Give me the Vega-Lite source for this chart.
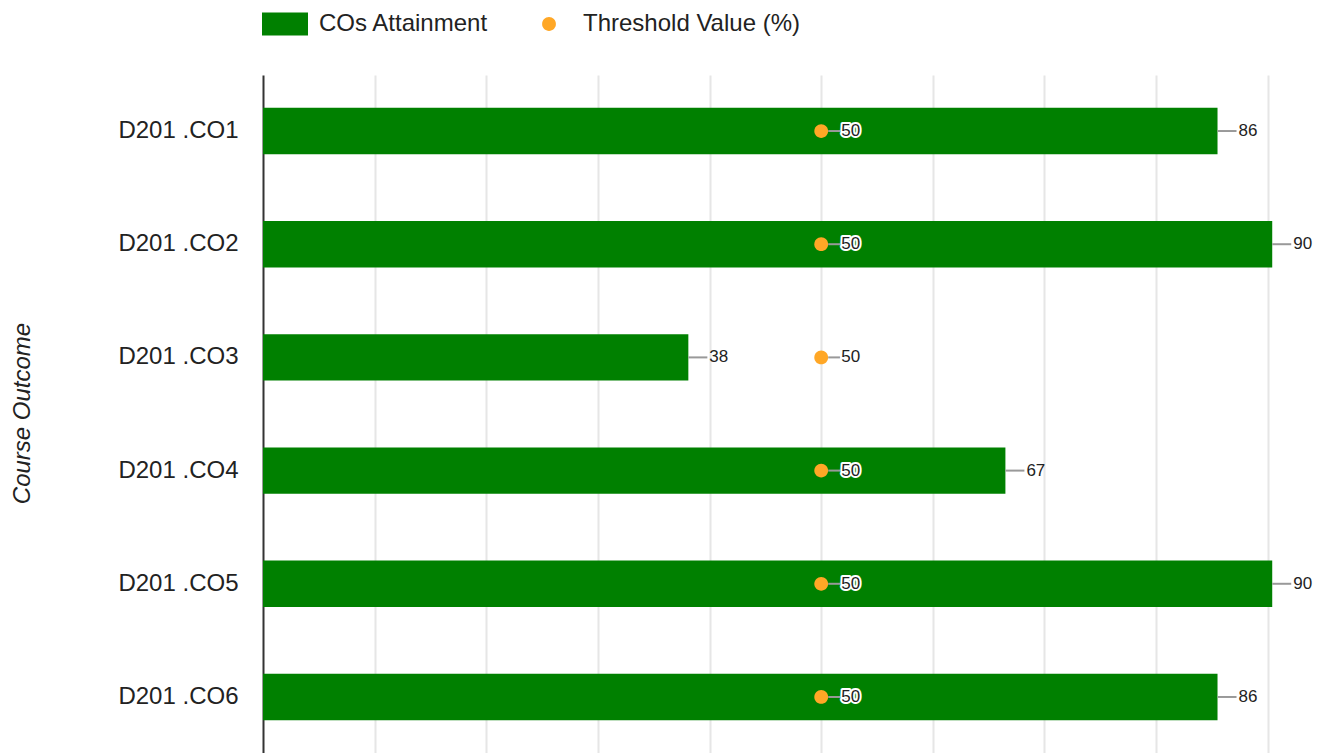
{
  "$schema": "https://vega.github.io/schema/vega-lite/v6.json",
  "width": 1055,
  "height": 678,
  "autosize": {"type": "none"},
  "padding": {"left": 263, "top": 75, "right": 14, "bottom": 0},
  "background": "white",
  "config": {
    "font": "Liberation Sans",
    "view": {"stroke": null},
    "legend": {
      "orient": "none",
      "legendX": -1,
      "legendY": -74,
      "direction": "horizontal",
      "labelFontSize": 24,
      "labelColor": "#222222",
      "labelOffset": 11,
      "columnPadding": 37,
      "symbolSize": 2116,
      "symbolStrokeWidth": 0,
      "labelLimit": 600
    }
  },
  "data": {
    "values": [
      {"co": "D201 .CO1", "series": "COs Attainment", "value": 85.5},
      {"co": "D201 .CO2", "series": "COs Attainment", "value": 90.4},
      {"co": "D201 .CO3", "series": "COs Attainment", "value": 38.1},
      {"co": "D201 .CO4", "series": "COs Attainment", "value": 66.5},
      {"co": "D201 .CO5", "series": "COs Attainment", "value": 90.4},
      {"co": "D201 .CO6", "series": "COs Attainment", "value": 85.5},
      {"co": "D201 .CO1", "series": "Threshold Value (%)", "value": 50},
      {"co": "D201 .CO2", "series": "Threshold Value (%)", "value": 50},
      {"co": "D201 .CO3", "series": "Threshold Value (%)", "value": 50},
      {"co": "D201 .CO4", "series": "Threshold Value (%)", "value": 50},
      {"co": "D201 .CO5", "series": "Threshold Value (%)", "value": 50},
      {"co": "D201 .CO6", "series": "Threshold Value (%)", "value": 50}
    ]
  },
  "encoding": {
    "y": {
      "field": "co",
      "type": "nominal",
      "sort": null,
      "scale": {"paddingInner": 0.59, "paddingOuter": 0.29},
      "axis": {
        "title": "Course Outcome",
        "titleFontSize": 24,
        "titleFontStyle": "italic",
        "titleFontWeight": "normal",
        "titleColor": "#222222",
        "titleX": -234,
        "titleY": 338,
        "titleAngle": -90,
        "titleAlign": "center",
        "titleBaseline": "alphabetic",
        "labelFontSize": 24,
        "labelColor": "#222222",
        "labelPadding": 25,
        "ticks": false,
        "grid": false,
        "domainColor": "#333333",
        "domainWidth": 2
      }
    },
    "x": {
      "field": "value",
      "type": "quantitative",
      "scale": {"domain": [0, 94.5], "nice": false, "zero": true},
      "axis": {
        "title": null,
        "values": [10, 20, 30, 40, 50, 60, 70, 80, 90],
        "grid": true,
        "gridColor": "#e6e6e6",
        "gridWidth": 2,
        "labels": false,
        "ticks": false,
        "domain": false
      }
    }
  },
  "layer": [
    {
      "transform": [{"filter": "datum.series === 'COs Attainment'"}],
      "layer": [
        {
          "mark": {"type": "bar"},
          "encoding": {
            "color": {
              "field": "series",
              "type": "nominal",
              "title": null,
              "scale": {"domain": ["COs Attainment", "Threshold Value (%)"], "range": ["#008000", "#FFA726"]}
            }
          }
        },
        {
          "mark": {"type": "rule", "x2Offset": 19, "color": "#999999", "strokeWidth": 2},
          "encoding": {"x2": {"field": "value"}}
        },
        {
          "mark": {"type": "text", "align": "left", "baseline": "middle", "dx": 21, "fontSize": 17, "color": "#222222"},
          "encoding": {"text": {"field": "value", "type": "quantitative", "format": ".0f"}}
        }
      ]
    },
    {
      "transform": [{"filter": "datum.series === 'Threshold Value (%)'"}],
      "layer": [
        {
          "mark": {"type": "rule", "xOffset": 7, "x2Offset": 19, "color": "#999999", "strokeWidth": 2},
          "encoding": {"x2": {"field": "value"}}
        },
        {
          "mark": {"type": "point", "filled": true, "size": 2116, "opacity": 1},
          "encoding": {
            "color": {
              "field": "series",
              "type": "nominal",
              "title": null,
              "scale": {"domain": ["COs Attainment", "Threshold Value (%)"], "range": ["#008000", "#FFA726"]}
            },
            "shape": {
              "field": "series",
              "type": "nominal",
              "title": null,
              "scale": {
                "domain": ["COs Attainment", "Threshold Value (%)"],
                "range": ["M-1,-0.5H1V0.5H-1Z", "M0.3,0A0.3,0.3 0 1,1 -0.3,0A0.3,0.3 0 1,1 0.3,0Z"]
              }
            }
          }
        },
        {
          "mark": {"type": "text", "align": "left", "baseline": "middle", "dx": 20, "fontSize": 17, "fill": "white", "stroke": "white", "strokeWidth": 4, "strokeJoin": "round"},
          "encoding": {"text": {"field": "value", "type": "quantitative", "format": ".0f"}}
        },
        {
          "mark": {"type": "text", "align": "left", "baseline": "middle", "dx": 20, "fontSize": 17, "color": "#222222"},
          "encoding": {"text": {"field": "value", "type": "quantitative", "format": ".0f"}}
        }
      ]
    }
  ]
}
